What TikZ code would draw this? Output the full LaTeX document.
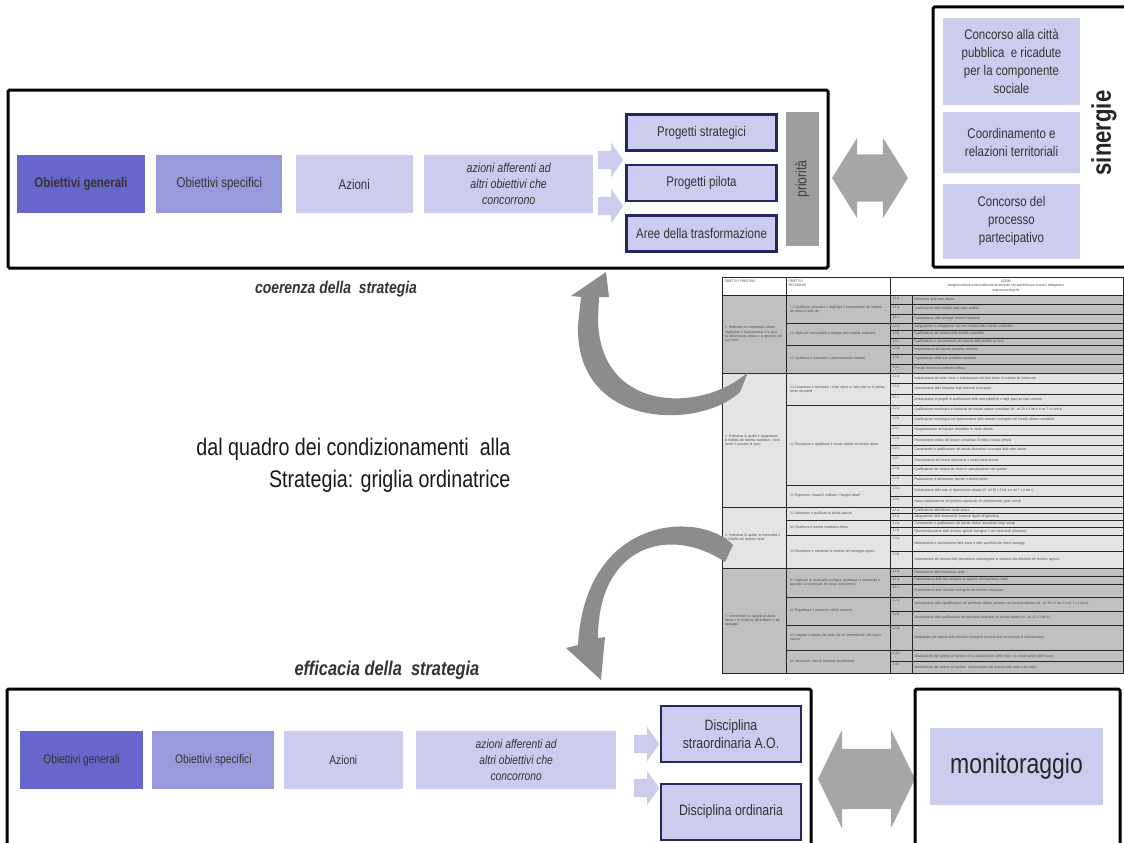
\documentclass[tikz,border=0pt]{standalone}
\usepackage{fontspec}
\setmainfont{Liberation Sans}[FakeStretch=0.82]
\usetikzlibrary{positioning, shapes.arrows}
\definecolor{genblue}{RGB}{102,102,204}
\definecolor{specblue}{RGB}{153,153,221}
\definecolor{lightblue}{RGB}{204,204,238}
\definecolor{navy}{RGB}{38,38,96}
\definecolor{arrgray}{RGB}{166,166,166}
\definecolor{curvegray}{RGB}{140,140,140}
\definecolor{tabmid}{RGB}{192,192,192}
\definecolor{tablight}{RGB}{228,228,228}

\begin{document}
\begin{tikzpicture}[x=1pt,y=-1pt,node distance=11pt,text=black!80,
	font=\fontsize{14}{17}\selectfont]

	\tikzset{frame/.style={draw=black, line width=3pt, rounded corners=1.5pt}}
	\tikzset{box/.style={minimum height=58pt, inner sep=1pt, align=center}}
	\tikzset{box gen/.style={box, fill=genblue}}
	\tikzset{box spec/.style={box, fill=specblue}}
	\tikzset{box light/.style={box, fill=lightblue}}
	\tikzset{box proj/.style={box, fill=lightblue, draw=navy, line width=2.5pt}}
	\tikzset{box small/.style={font=\fontsize{12.5}{15.5}\selectfont}}
	\tikzset{chevron/.style={single arrow, fill=lightblue, inner xsep=0pt, inner ysep=9pt,
			minimum height=25pt, single arrow head extend=8pt, single arrow tip angle=110}}
	\tikzset{twoway/.style={double arrow, fill=arrgray, inner xsep=0pt}}
	\tikzset{cell/.style={draw=black!85, line width=0.6pt}}
	\tikzset{tiny/.style={font=\fontsize{3.6}{4.3}\selectfont, text=black!70, inner sep=0.5pt}}

	\useasboundingbox (0,0) rectangle (1124,843);
	\clip (0,0) rectangle (1124,843);

	% upper block
	\draw[frame] (8,90) rectangle (828,268);
	\node[box gen, minimum width=128pt, font=\bfseries\fontsize{14}{17}\selectfont] (OG1) at (81,184) {Obiettivi generali};
	\node[box spec, minimum width=126pt, right=11pt of OG1] (OS1) {Obiettivi specifici};
	\node[box light, minimum width=117pt, right=13pt of OS1] (AZ1) {Azioni};
	\node[box light, minimum width=169pt, right=11pt of AZ1, font=\itshape\fontsize{13}{16}\selectfont] (AF1) {azioni afferenti ad\\altri obiettivi che\\concorrono};

	\node[chevron] (CV1) at (607.5,160) {};
	\node[chevron] (CV2) at (607.5,206) {};

	\node[box proj, minimum width=150pt, minimum height=36pt] (PS) at (701.5,132.5) {Progetti strategici};
	\node[box proj, minimum width=150pt, minimum height=36pt, below=12pt of PS] (PP) {Progetti pilota};
	\node[box proj, minimum width=150pt, minimum height=36pt, below=12pt of PP] (AT) {Aree della trasformazione};

	\node[rotate=90, fill=arrgray!95!black, minimum width=134pt, minimum height=33pt,
		font=\fontsize{15}{17}\selectfont, text=black!75] (PR) at (802.5,179) {priorità};

	\node[twoway, minimum height=76pt, inner ysep=23.5pt,
		double arrow head extend=16.5pt, double arrow tip angle=116] (DA1) at (870,178) {};

	% sinergie
	\draw[frame] (933,7) rectangle (1134,267);
	\node[box light, minimum width=137pt, minimum height=87pt, font=\fontsize{14}{18}\selectfont] (CC) at (1011.5,61.5) {Concorso alla città\\pubblica\ \ e ricadute\\per la componente\\sociale};
	\node[box light, minimum width=137pt, minimum height=61pt, below=7pt of CC, font=\fontsize{14}{18}\selectfont] (CT) {Coordinamento e\\relazioni territoriali};
	\node[box light, minimum width=137pt, minimum height=75pt, below=10pt of CT, font=\fontsize{14}{18}\selectfont] (CP) {Concorso del\\processo\\partecipativo};
	\node[rotate=90, font=\bfseries\fontsize{27}{30}\selectfont, text=black!85] (SN) at (1104,133) {sinergie};

	% titles
	\node[font=\bfseries\itshape\fontsize{17}{20}\selectfont] (CO) at (336,289) {coerenza della\ \ strategia};
	\node[align=right, anchor=east, font=\fontsize{24}{32}\selectfont, text=black!90] (TT) at (514,465)
		{dal quadro dei condizionamenti\ \ alla\\Strategia: griglia ordinatrice};
	\node[font=\bfseries\itshape\fontsize{20}{23}\selectfont] (EF) at (387,670) {efficacia della\ \ strategia};

	% griglia ordinatrice
	\draw[cell, fill=white] (722,277) rectangle (1123,295);
	\draw[cell] (786,277) -- (786,295) (890,277) -- (890,295);
	\node[tiny, anchor=north west] (H1) at (724,279) {OBIETTIVI PRINCIPALI};
	\node[tiny, anchor=north west, align=left] (H2) at (788,279) {OBIETTIVI\\SECONDARI};
	\node[tiny, align=center] (H3) at (1006,286) {AZIONI\\categorie normative territorializzate da declinare con specifiche per incentivi, obbligazioni,\\dotazioni ecologiche};

	\foreach \ya/\yb/\fc/\txt [count=\k] in {
		295/373/tabmid/{1. Rafforzare la competitività urbana, migliorando il funzionamento e la qualità dell'armatura urbana e la gerarchia dei suoi centri},
		373/507/tablight/{2. Potenziare la qualità e riorganizzare la fruibilità del sistema insediativo, contenendo il consumo di suolo},
		507/568/tablight/{3. Potenziare la qualità, la funzionalità e la fruibilità del territorio rurale},
		568/673/tabmid/{4. Incrementare la capacità di adattamento e di resilienza dell'ambiente e del paesaggio}}
	{
		\draw[cell, fill=\fc] (722,\ya) rectangle (786,\yb);
		\node[tiny, text width=58pt, align=left] (G\k) at (754,{(\ya+\yb)/2}) {\txt};
	}

	\foreach \ya/\yb/\fc/\txt [count=\k] in {
		295/323/tabmid/{1.1 Qualificare, potenziare e migliorare il funzionamento del sistema dei servizi e delle reti},
		323/345/tabmid/{1.2 Migliorare l'accessibilità e sviluppo della mobilità sostenibile},
		345/373/tabmid/{1.3 Qualificare e potenziare i sistemi produttivi esistenti},
		373/405/tablight/{2.1 Conservare e valorizzare i centri storici e i beni storici e le permanenze ed assetti},
		405/485/tablight/{2.2 Recuperare e riqualificare il tessuto edilizio nei territori urbani},
		485/507/tablight/{2.3 Rigenerare i tessuti e ridefinire i ``margini urbani''},
		507/520/tablight/{3.1 Valorizzare e qualificare le attività agricole},
		520/535/tablight/{3.2 Qualificare il sistema insediativo diffuso},
		535/568/tablight/{3.3 Recuperare e valorizzare le strutture del paesaggio agrario},
		568/597/tabmid/{4.1 Migliorare la funzionalità ecologica (potenziare la biodiversità e agevolare la funzionalità dei servizi ecosistemici)},
		597/625/tabmid/{4.2 Riqualificare il patrimonio edilizio esistente},
		625/650/tabmid/{4.3 Integrare il sistema del verde alle reti infrastrutturali, alle trasformazioni},
		650/673/tabmid/{4.4 Valorizzare i beni di interesse documentario}}
	{
		\draw[cell, fill=\fc] (786,\ya) rectangle (890,\yb);
		\node[tiny, text width=96pt, align=left] (S\k) at (838,{(\ya+\yb)/2}) {\txt};
	}

	\foreach \cd/\ya/\yb/\fc/\txt [count=\k] in {
		1.1.a/295/304/tabmid/{Definizione delle aree urbane},
		1.1.b/304/314/tabmid/{Qualificazione della fruibilità degli spazi pubblici},
		1.1.c/314/323/tabmid/{Individuazione delle principali relazioni funzionali},
		1.2.a/323/330/tabmid/{Adeguamento e collegamento alla rete ciclabile della mobilità sostenibile},
		1.2.b/330/338/tabmid/{Qualificazione del sistema della mobilità sostenibile},
		1.2.c/338/345/tabmid/{Qualificazione e potenziamento del sistema della mobilità su ferro},
		1.3.a/345/354/tabmid/{Potenziamento del sistema produttivo esistente},
		1.3.b/354/364/tabmid/{Rigenerazione delle aree produttive dismesse},
		1.3.c/364/373/tabmid/{Presidio del tessuto produttivo diffuso},
		2.1.a/373/383/tablight/{Individuazione dei centri storici e individuazione dei beni minori di contesto da conservare},
		2.1.b/383/394/tablight/{Incentivazione della disciplina degli interventi di recupero},
		2.1.c/394/405/tablight/{Individuazione di progetti di qualificazione delle aree pubbliche e degli spazi ad esse connessi},
		2.2.a/405/415/tablight/{Qualificazione morfologica e funzionale del tessuto urbano consolidato (rif. art 39 c.3 lett b e art 7 c.4 lett b)},
		2.2.b/415/425/tablight/{Qualificazione morfologica con potenziamento delle dotazioni ecologiche del tessuto urbano consolidato},
		2.2.c/425/435/tablight/{Riorganizzazione del tessuto consolidato di media densità},
		2.2.d/435/445/tablight/{Rinnovamento edilizio del tessuto consolidato di media e bassa densità},
		2.2.e/445/455/tablight/{Contenimento e qualificazione del tessuto discontinuo ai margini delle aree urbane},
		2.2.f/455/465/tablight/{Potenziamento del tessuto discontinuo a medio bassa densità},
		2.2.g/465/475/tablight/{Qualificazione del sistema dei servizi e specializzazione dei quartieri},
		2.2.h/475/485/tablight/{Realizzazione di attrezzature sportive e attività ludiche},
		2.3.a/485/496/tablight/{Individuazione delle aree di rigenerazione urbana (rif. art 39 c.3 lett b e art 7 c.4 lett c)},
		2.3.b/496/507/tablight/{Nuova urbanizzazione nel territorio urbanizzato di completamento (aree sociali)},
		3.1.a/507/513.5/tablight/{Qualificazione dell'edificato rurale sparso},
		3.1.b/513.5/520/tablight/{Adeguamento delle destinazioni funzionali legate all'agricoltura},
		3.2.a/520/527.5/tablight/{Contenimento e qualificazione del tessuto edilizio discontinuo lungo strada},
		3.2.b/527.5/535/tablight/{Rifunzionalizzazione delle strutture agricole incongrue o non tradizionali (dismesse)},
		3.3.a/535/551.5/tablight/{Mantenimento e valorizzazione della trama e delle specificità dei diversi paesaggi},
		3.3.b/551.5/568/tablight/{Valorizzazione del sistema delle permanenze archeologiche in relazione alla diffusività del territorio agricolo},
		4.1.a/568/576/tabmid/{Realizzazione dell'infrastruttura verde},
		4.1.b/576/584/tabmid/{Potenziamento della rete ecologica di supporto all'infrastruttura verde},
		4.1.c/584/597/tabmid/{Potenziamento delle dotazioni ecologiche del territorio urbanizzato},
		4.2.a/597/611/tabmid/{Incentivazione della riqualificazione del patrimonio edilizio esistente con funzione abitativa (rif. art 39 c.3 lett b e art 7 c.4 lett b)},
		4.2.b/611/625/tabmid/{Incentivazione della qualificazione del patrimonio produttivo ed elevato impatto (rif. art 39 c.3 lett b)},
		4.3.a/625/650/tabmid/{Integrazione del sistema delle dotazioni ecologiche ed ambientali nei processi di trasformazione},
		4.4.a/650/661.5/tabmid/{Strutturazione del sistema di fruizione con la valorizzazione delle mura e la conservazione delle tracce},
		4.4.b/661.5/673/tabmid/{Strutturazione del sistema di fruizione: organizzazione del sistema delle mete e dei luoghi}}
	{
		\draw[cell, fill=\fc] (890,\ya) rectangle (1123,\yb);
		\draw[cell] (912,\ya) -- (912,\yb);
		\node[tiny, anchor=north west] (C\k) at (892,{\ya+1}) {\cd};
		\node[tiny, anchor=west, text width=205pt, align=left] (A\k) at (914,{(\ya+\yb)/2}) {\txt};
	}

	% curved arrows
	\fill[curvegray] (748,372) .. controls (705,412) and (600,415) .. (598,320) -- (599,297) -- (609,297) -- (606,272)
		-- (571,296) -- (581,297) -- (578,325) .. controls (575,430) and (700,430) .. (740,392) -- cycle;
	\fill[curvegray] (733,545) .. controls (700,510) and (585,515) .. (578,645) -- (566,648) -- (601,680)
		-- (605,637) -- (598,638) .. controls (598,545) and (670,525) .. (725,562) -- cycle;

	% lower block
	\draw[frame] (7,689) rectangle (811,860);
	\node[box gen, box small, minimum width=123pt] (OG2) at (81.5,760) {Obiettivi generali};
	\node[box spec, box small, minimum width=122pt, right=9pt of OG2] (OS2) {Obiettivi specifici};
	\node[box light, box small, minimum width=119pt, right=9pt of OS2] (AZ2) {Azioni};
	\node[box light, minimum width=200pt, right=13pt of AZ2, font=\itshape\fontsize{12.5}{16}\selectfont] (AF2) {azioni afferenti ad\\altri obiettivi che\\concorrono};

	\node[chevron] (CV3) at (643.5,744) {};
	\node[chevron] (CV4) at (643.5,788) {};

	\node[box proj, minimum width=140pt, minimum height=56pt, font=\fontsize{15}{18}\selectfont] (DS) at (731,734) {Disciplina\\straordinaria A.O.};
	\node[box proj, minimum width=140pt, minimum height=56pt, below=19.5pt of DS, font=\fontsize{15}{18}\selectfont] (DO) {Disciplina ordinaria};

	\node[twoway, minimum height=97pt, inner ysep=30pt,
		double arrow head extend=19pt, double arrow tip angle=128] (DA2) at (866.5,779) {};

	% monitoraggio
	\draw[frame] (915,689) rectangle (1120,860);
	\node[box light, minimum width=173pt, minimum height=77pt, font=\fontsize{28}{32}\selectfont, text=black!85] (MO) at (1016.5,766.5) {monitoraggio};
\end{tikzpicture}
\end{document}
